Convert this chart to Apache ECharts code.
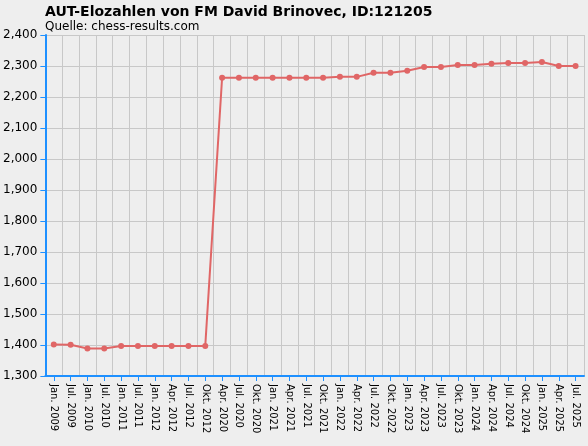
<!DOCTYPE html>
<html><head><meta charset="utf-8">
<script src="https://cdn.jsdelivr.net/npm/echarts@6/dist/echarts.min.js"></script>
<style>html,body{margin:0;padding:0;background:#eeeeee}#c{width:588px;height:446px}</style>
</head><body><div id="c"></div>
<script>
const categories=["Jan. 2009","Jul. 2009","Jan. 2010","Jul. 2010","Jan. 2011","Jul. 2011","Jan. 2012","Apr. 2012","Jul. 2012","Okt. 2012","Apr. 2020","Jul. 2020","Okt. 2020","Jan. 2021","Apr. 2021","Jul. 2021","Okt. 2021","Jan. 2022","Apr. 2022","Jul. 2022","Okt. 2022","Jan. 2023","Apr. 2023","Jul. 2023","Okt. 2023","Jan. 2024","Apr. 2024","Jul. 2024","Okt. 2024","Jan. 2025","Apr. 2025","Jul. 2025"];
const elo=[1402,1401,1389,1389,1397,1397,1397,1397,1397,1397,2262,2262,2262,2262,2262,2262,2262,2265,2265,2278,2278,2285,2297,2297,2303,2303,2307,2310,2310,2313,2300,2300];
const yTicks=[1300,2400,100];
const ch=echarts.init(document.getElementById('c'));
ch.setOption({
 backgroundColor:'#eeeeee',animation:false,
 title:{text:'AUT-Elozahlen von FM David Brinovec, ID:121205',subtext:'Quelle: chess-results.com',left:40,top:0,itemGap:2,
  textStyle:{fontFamily:'DejaVu Sans',fontSize:14,fontWeight:'bold',color:'#000'},
  subtextStyle:{fontFamily:'DejaVu Sans',fontSize:12,color:'#000'}},
 grid:{left:41,right:4,top:35,bottom:70},
 xAxis:{type:'category',data:categories,boundaryGap:true,
  axisLine:{lineStyle:{color:'#1e90ff',width:2}},axisTick:{show:true,alignWithLabel:true,lineStyle:{color:'#1e90ff'}},
  axisLabel:{rotate:-90,fontSize:10,fontFamily:'DejaVu Sans',color:'#000',interval:0},
  splitLine:{show:true,interval:0,lineStyle:{color:'#c8c8c8'}}},
 yAxis:{type:'value',min:yTicks[0],max:yTicks[1],interval:yTicks[2],
  axisLine:{show:true,lineStyle:{color:'#1e90ff',width:2}},axisTick:{show:true,lineStyle:{color:'#1e90ff'}},
  axisLabel:{fontSize:12,fontFamily:'DejaVu Sans',color:'#000'},
  splitLine:{lineStyle:{color:'#c8c8c8'}}},
 series:[{type:'line',data:elo,symbol:'circle',symbolSize:6,
  lineStyle:{color:'#e06666',width:2},itemStyle:{color:'#e06666'}}]
});
</script></body></html>
